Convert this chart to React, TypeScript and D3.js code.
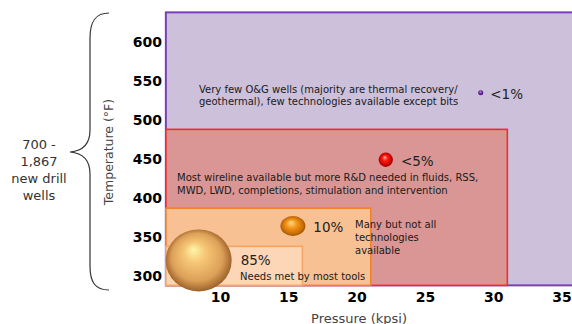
import React from "react";
import * as d3 from "d3";

// ---- data ----
const xTicks = [10, 15, 20, 25, 30, 35];
const yTicks = [300, 350, 400, 450, 500, 550, 600];

// operating envelopes (pressure kpsi, temperature °F)
const regionNames = ["geothermal", "hpht", "moderate", "conventional"];
const regionPMin = [6, 6, 6, 6];
const regionPMax = [37, 31, 21, 16];
const regionTMin = [288, 288, 288, 288];
const regionTMax = [638, 488, 387, 338];

// bubbles: share of wells
const bubbleLabels = ["<1%", "<5%", "10%", "85%"];
const bubbleShare = [0.5, 4, 10, 85];
const bubblePressure = [29.05, 22.1, 15.3, 8.4];
const bubbleTemp = [535, 449, 364, 320];

const noteLines = [
  ["Very few O&G wells (majority are thermal recovery/", "geothermal), few technologies available except bits"],
  ["Most wireline available but more R&D needed in fluids, RSS,", "MWD, LWD, completions, stimulation and intervention"],
  ["Many but not all", "technologies", "available"],
  ["Needs met by most tools"],
];
const sideLines = ["700 -", "1,867", "new drill", "wells"];

// ---- styles ----
const FONT = "DejaVu Sans, Verdana, sans-serif";
const regionFill = ["#cdc0db", "#d99694", "#f8c194", "#fcd6b6"];
const regionStroke = ["#7a3fb8", "#ff2626", "#f08228", "#f5a563"];
const regionStrokeW = [2, 1.6, 1.6, 1.6];
const notePos = [
  [199, 89],
  [177, 177],
  [355, 224],
  [240, 276],
];
const noteLH = [12, 13, 13, 12];

export default function App() {
  const x = d3.scaleLinear().domain([10, 35]).range([220.5, 562]);
  const y = d3.scaleLinear().domain([300, 600]).range([276, 42]);
  const r = d3.scaleSqrt().domain([0, 85]).range([0, 33]);

  const grads = [
    { id: "gPurple", stops: [["0%", "#c590f0"], ["45%", "#7a30b0"], ["100%", "#3e1060"]] },
    { id: "gRed", stops: [["0%", "#ffb0a0"], ["35%", "#ff1a10"], ["80%", "#c00000"], ["100%", "#7a0000"]] },
    { id: "gOrange", stops: [["0%", "#ffd98a"], ["40%", "#f39418"], ["80%", "#c56a05"], ["100%", "#7a4000"]] },
    { id: "gGold", stops: [["0%", "#fff6a8"], ["30%", "#f6c676"], ["70%", "#dca058"], ["90%", "#a56a30"], ["100%", "#6e4418"]] },
  ];
  const aspect = [1, 1, 0.8, 0.94];

  return (
    <svg
      width={572}
      height={324}
      style={{ position: "absolute", left: 0, top: 0, background: "#fff" }}
      fontFamily={FONT}
    >
      <defs>
        {grads.map((g) => (
          <radialGradient key={g.id} id={g.id} cx="50%" cy="50%" r="55%" fx="42%" fy="32%">
            {g.stops.map(([o, c]) => (
              <stop key={o} offset={o} stopColor={c} />
            ))}
          </radialGradient>
        ))}
      </defs>

      {/* regions */}
      {regionNames.map((n, i) => (
        <rect
          key={n}
          x={x(regionPMin[i])}
          y={y(regionTMax[i])}
          width={x(regionPMax[i]) - x(regionPMin[i])}
          height={y(regionTMin[i]) - y(regionTMax[i])}
          fill={regionFill[i]}
          stroke={regionStroke[i]}
          strokeWidth={regionStrokeW[i]}
        />
      ))}

      {/* notes */}
      {noteLines.map((lines, i) => (
        <text key={i} fontSize={10} fill="#1a1a1a">
          {lines.map((l, j) => (
            <tspan key={j} x={notePos[i][0]} y={notePos[i][1] + j * noteLH[i]} dominantBaseline="central">
              {l}
            </tspan>
          ))}
        </text>
      ))}

      {/* bubbles */}
      {bubbleLabels.map((lab, i) => {
        const cx = x(bubblePressure[i]);
        const cy = y(bubbleTemp[i]);
        const rr = r(bubbleShare[i]);
        return (
          <g key={lab}>
            <ellipse
              cx={cx}
              cy={cy}
              rx={rr * (i === 2 ? 1.1 : 1)}
              ry={rr * aspect[i] * (i === 2 ? 1.1 : 1)}
              fill={`url(#${grads[i].id})`}
            />
            <text
              x={cx + rr * (i === 2 ? 1.1 : 1) + (i === 0 ? 7 : i === 3 ? 9 : 8)}
              y={cy + (i === 3 ? 0 : 1)}
              fontSize={13.5}
              fill="#222"
              dominantBaseline="central"
            >
              {lab}
            </text>
          </g>
        );
      })}

      {/* y ticks */}
      {yTicks.map((t) => (
        <text key={t} x={162} y={y(t)} textAnchor="end" dominantBaseline="central" fontSize={14} fontWeight="bold" fill="#000">
          {t}
        </text>
      ))}
      {/* x ticks */}
      {xTicks.map((t) => (
        <text key={t} x={x(t)} y={297} textAnchor="middle" dominantBaseline="central" fontSize={14} fontWeight="bold" fill="#000">
          {t}
        </text>
      ))}

      {/* axis titles */}
      <text x={359} y={322.5} textAnchor="middle" fontSize={13} fill="#444">
        Pressure (kpsi)
      </text>
      <text
        transform="translate(108,152) rotate(-90)"
        textAnchor="middle"
        dominantBaseline="central"
        fontSize={12.5}
        fill="#444"
      >
        Temperature (°F)
      </text>

      {/* brace */}
      <path
        d="M109,13 C95,13 90,22 90,38 L90,130 C90,145 82,151 70,152 C82,153 90,159 90,174 L90,266 C90,282 95,290 109,290"
        fill="none"
        stroke="#333"
        strokeWidth={1.2}
      />
      <text fontSize={13} fill="#333" textAnchor="middle">
        {sideLines.map((l, j) => (
          <tspan key={j} x={39} y={144 + j * 17} dominantBaseline="central">
            {l}
          </tspan>
        ))}
      </text>
    </svg>
  );
}
